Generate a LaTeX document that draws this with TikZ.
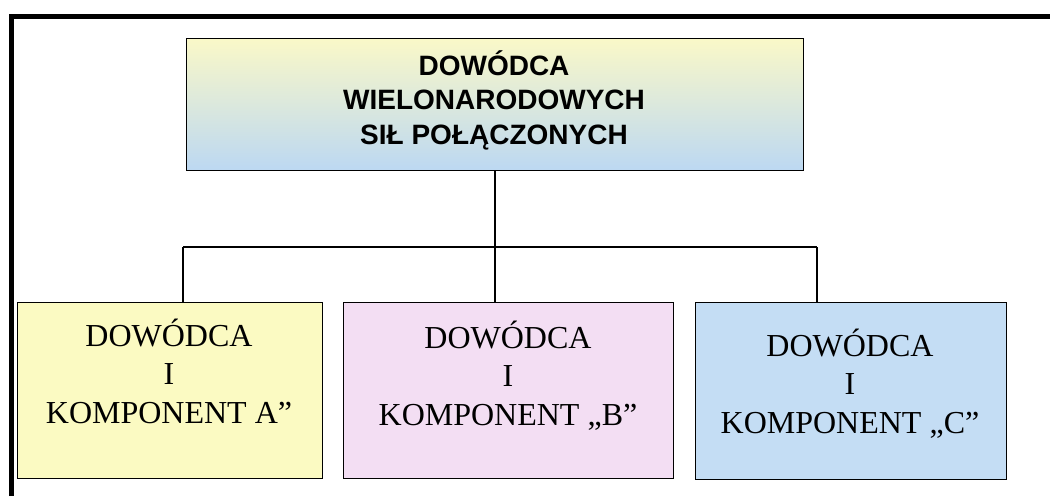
\documentclass[tikz,border=0pt]{standalone}
\usepackage{fontspec}
\setmainfont{Liberation Serif}
\newfontfamily\headfont{Liberation Sans}
\definecolor{boxA}{HTML}{FBFAC2}
\definecolor{boxB}{HTML}{F3DEF3}
\definecolor{boxC}{HTML}{C4DDF4}
\definecolor{topY}{HTML}{FAF8C8}
\definecolor{topM}{HTML}{EAF2E6}
\definecolor{topB}{HTML}{BCD8F2}
\tikzset{
  x=1pt, y=-1pt,
  frameline/.style={line width=5pt, black},
  boxshape/.style={draw=black, line width=1.3pt, anchor=north west, inner sep=0pt},
  headtext/.style={anchor=base, inner sep=0pt, font=\headfont\bfseries\fontsize{28}{34.5}\selectfont},
  subtext/.style={anchor=base, inner sep=0pt, font=\fontsize{32}{38.5}\selectfont},
  link/.style={draw=black, line width=1.2pt}
}
\begin{document}
\begin{tikzpicture}
\useasboundingbox (0,0) rectangle (1050,496);
\draw[frameline] (11,496) -- (11,16) -- (1050,16);

\node[boxshape, top color=topY, middle color=topM, bottom color=topB, minimum width=617pt, minimum height=132pt] (top) at (186,38) {};
\node[boxshape, fill=boxA, minimum width=305pt, minimum height=176pt] (A) at (17,302) {};
\node[boxshape, fill=boxB, minimum width=330pt, minimum height=176pt] (B) at (343,302) {};
\node[boxshape, fill=boxC, minimum width=311pt, minimum height=177pt] (C) at (695,302) {};

\node[headtext] (toptxt) at (494,75) {\begin{tabular}[t]{@{}c@{}}DOWÓDCA\\WIELONARODOWYCH\\SIŁ POŁĄCZONYCH\end{tabular}};
\node[subtext] (Atxt) at (169,346) {\begin{tabular}[t]{@{}c@{}}DOWÓDCA\\I\\KOMPONENT A”\end{tabular}};
\node[subtext] (Btxt) at (508,348) {\begin{tabular}[t]{@{}c@{}}DOWÓDCA\\I\\KOMPONENT „B”\end{tabular}};
\node[subtext] (Ctxt) at (850,356) {\begin{tabular}[t]{@{}c@{}}DOWÓDCA\\I\\KOMPONENT „C”\end{tabular}};

\coordinate (ha) at (183,247);
\coordinate (hc) at (817,247);
\coordinate (hm) at (495,247);
\draw[link] (top.south -| hm) -- (hm |- B.north);
\draw[link] (ha) -- (hc);
\draw[link] (ha) -- (ha |- A.north);
\draw[link] (hc) -- (hc |- C.north);
\end{tikzpicture}
\end{document}
